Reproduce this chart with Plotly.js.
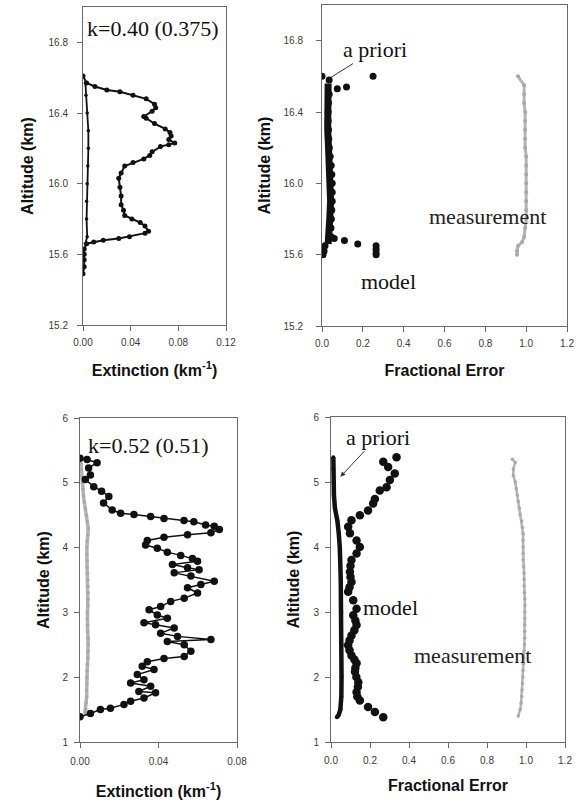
<!DOCTYPE html>
<html>
<head>
<meta charset="utf-8">
<script src="https://cdn.plot.ly/plotly-3.0.1.min.js"></script>
<style>html,body{margin:0;padding:0;background:#fff;}#chart{width:586px;height:803px;}</style>
</head>
<body>
<div id="chart"></div>
<script>
// ---------- Panel 1 (top left): extinction profile, 15.2-17 km ----------
const p1Alt = [16.61,16.57,16.55,16.53,16.52,16.50,16.48,16.45,16.43,16.41,16.38,16.37,16.34,16.31,16.29,16.27,16.25,16.23,16.22,16.21,16.18,16.16,16.14,16.12,16.10,16.06,16.03,15.98,15.93,15.88,15.85,15.82,15.80,15.78,15.76,15.73,15.72,15.70,15.69,15.68,15.67,15.66,15.63,15.60,15.57,15.53,15.49];
const p1Ext = [0.000,0.003,0.010,0.020,0.031,0.042,0.053,0.060,0.061,0.058,0.051,0.053,0.060,0.069,0.073,0.074,0.072,0.077,0.072,0.065,0.058,0.056,0.051,0.042,0.035,0.032,0.030,0.031,0.032,0.032,0.034,0.035,0.041,0.048,0.052,0.055,0.052,0.039,0.030,0.017,0.009,0.003,0.001,0.001,0.001,0.001,0.000];
const p1bAlt = [16.57,16.50,16.40,16.30,16.20,16.10,16.00,15.90,15.80,15.70,15.66];
const p1bExt = [0.002,0.0025,0.0035,0.0045,0.0045,0.004,0.0035,0.003,0.003,0.0035,0.002];

// ---------- Panel 2 (top right): fractional errors ----------
const p2mAlt = [16.60,16.60,16.58,16.54,16.53,16.50,16.45,16.40,16.35,16.30,16.25,16.20,16.15,16.10,16.05,16.00,15.95,15.90,15.85,15.80,15.75,15.70,15.69,15.68,15.66,15.65,15.63,15.61,15.60,15.65,15.62,15.60];
const p2mFe  = [0.0,0.25,0.035,0.12,0.075,0.035,0.032,0.03,0.03,0.032,0.033,0.036,0.04,0.045,0.048,0.05,0.05,0.05,0.048,0.046,0.044,0.045,0.06,0.11,0.175,0.265,0.265,0.265,0.265,0.015,0.01,0.005];
const p2aAlt = [16.56,16.50,16.40,16.30,16.20,16.10,16.00,15.90,15.80,15.70,15.66];
const p2aFe  = [0.03,0.028,0.027,0.028,0.032,0.038,0.042,0.042,0.038,0.035,0.03];
const p2gAlt = [16.60,16.55,16.50,16.45,16.40,16.35,16.30,16.25,16.20,16.15,16.10,16.05,16.00,15.95,15.90,15.85,15.80,15.75,15.70,15.67,15.65,15.62,15.60];
const p2gFe  = [0.96,0.99,0.99,0.99,0.995,0.995,0.995,0.995,0.995,1.0,1.0,1.0,1.0,1.0,1.0,1.0,1.0,0.995,0.99,0.98,0.96,0.955,0.955];

// ---------- Panel 3 (bottom left): extinction profile, 1-6 km ----------
const p3Alt = [5.38,5.36,5.31,5.23,5.12,5.05,4.94,4.87,4.79,4.69,4.58,4.53,4.51,4.48,4.45,4.42,4.40,4.35,4.33,4.28,4.23,4.20,4.16,4.11,4.04,3.99,3.93,3.88,3.83,3.79,3.74,3.69,3.66,3.61,3.56,3.48,3.43,3.38,3.30,3.22,3.17,3.09,3.04,2.96,2.91,2.84,2.81,2.76,2.68,2.63,2.58,2.55,2.50,2.40,2.32,2.29,2.24,2.17,2.12,2.04,1.96,1.91,1.86,1.78,1.76,1.68,1.63,1.58,1.52,1.50,1.44,1.39];
const p3Ext = [0.0,0.0036,0.0087,0.0044,0.0053,0.0027,0.007,0.011,0.0147,0.012,0.0164,0.0207,0.0275,0.036,0.0428,0.053,0.058,0.064,0.0684,0.071,0.0667,0.0548,0.0428,0.0343,0.0334,0.0394,0.0445,0.0513,0.0573,0.0599,0.0471,0.0548,0.0607,0.048,0.0565,0.0684,0.0616,0.0548,0.0599,0.0531,0.0462,0.0411,0.0352,0.0394,0.0445,0.0326,0.0385,0.048,0.0411,0.0497,0.0667,0.0445,0.0531,0.0565,0.0531,0.0428,0.0343,0.0317,0.0377,0.0292,0.0326,0.0258,0.036,0.03,0.0385,0.0326,0.0258,0.0224,0.0155,0.0104,0.0053,0.0];
const p3gAlt = [5.30,5.20,5.10,5.00,4.90,4.80,4.70,4.60,4.50,4.40,4.30,4.20,4.10,4.00,3.90,3.80,3.70,3.60,3.50,3.40,3.30,3.20,3.10,3.00,2.90,2.80,2.70,2.60,2.50,2.40,2.30,2.20,2.10,2.00,1.90,1.80,1.70,1.60,1.50,1.45];
const p3gExt = [0.0005,0.0007,0.001,0.0012,0.0015,0.0018,0.0022,0.0028,0.0033,0.0038,0.0042,0.004,0.0036,0.0035,0.0035,0.0036,0.0037,0.0039,0.004,0.0041,0.0042,0.0041,0.004,0.0038,0.0037,0.0038,0.0039,0.0041,0.0042,0.0041,0.004,0.0038,0.0036,0.0035,0.0035,0.0034,0.0034,0.0032,0.003,0.0025];

// ---------- Panel 4 (bottom right): fractional errors ----------
const p4mAlt = [5.38,5.31,5.23,5.13,5.03,4.92,4.87,4.74,4.67,4.56,4.49,4.41,4.31,4.21,4.10,4.00,3.90,3.80,3.71,3.62,3.54,3.46,3.38,3.31,3.18,3.05,2.95,2.87,2.80,2.72,2.64,2.56,2.49,2.41,2.33,2.27,2.21,2.14,2.08,2.00,1.92,1.85,1.77,1.70,1.64,1.54,1.46,1.38];
const p4mFe  = [0.336,0.268,0.293,0.327,0.302,0.285,0.25,0.225,0.216,0.19,0.148,0.105,0.088,0.097,0.131,0.148,0.131,0.105,0.10,0.097,0.10,0.105,0.095,0.088,0.114,0.131,0.114,0.125,0.131,0.12,0.105,0.095,0.088,0.095,0.105,0.12,0.131,0.125,0.123,0.13,0.14,0.138,0.131,0.135,0.148,0.19,0.225,0.268];
const p4aAlt = [5.38,5.20,5.00,4.80,4.60,4.40,4.20,4.00,3.50,3.00,2.50,2.00,1.70,1.50,1.42,1.38];
const p4aFe  = [0.012,0.012,0.013,0.015,0.02,0.033,0.04,0.045,0.05,0.053,0.054,0.054,0.053,0.048,0.04,0.03];
const p4gAlt = [5.35,5.30,5.20,5.10,5.00,4.90,4.80,4.70,4.60,4.50,4.40,4.30,4.20,4.10,4.00,3.90,3.80,3.70,3.60,3.50,3.40,3.30,3.20,3.10,3.00,2.90,2.80,2.70,2.60,2.50,2.40,2.30,2.20,2.10,2.00,1.90,1.80,1.70,1.60,1.50,1.40];
const p4gFe  = [0.93,0.945,0.935,0.935,0.945,0.95,0.955,0.96,0.965,0.97,0.978,0.982,0.985,0.985,0.985,0.985,0.985,0.988,0.99,0.99,0.99,0.992,0.994,0.994,0.994,0.994,0.994,0.994,0.994,0.992,0.99,0.988,0.986,0.985,0.984,0.982,0.98,0.978,0.975,0.97,0.96];

// tick values / labels
const extTicks1 = [0, 0.04, 0.08, 0.12];
const extTicks3 = [0, 0.04, 0.08];
const feTicks = [0, 0.2, 0.4, 0.6, 0.8, 1.0, 1.2];
const altTicks1 = [15.2, 15.6, 16.0, 16.4, 16.8];
const altTicks3 = [1, 2, 3, 4, 5, 6];

const W = 586, H = 803;
const BLACK = '#111', GRAY = '#b4b4b4';
const SANS = 'Liberation Sans, Arial, sans-serif';
const SERIF = 'Liberation Serif, Times New Roman, serif';

function xd(l, r) { return [l / W, r / W]; }
function yd(t, b) { return [1 - b / H, 1 - t / H]; }

function axisBase(extra) {
  return Object.assign({
    showline: true, mirror: true, linecolor: '#6a6a6a', linewidth: 1,
    ticks: 'outside', ticklen: 5, tickcolor: '#6a6a6a', tickwidth: 1,
    showgrid: false, zeroline: false, fixedrange: true,
    tickfont: { family: SANS, size: 10, color: '#3a3a3a' }
  }, extra);
}
const titleFont = { family: SANS, size: 16, color: '#111', weight: 'bold' };
const serifFont = { family: SERIF, size: 22, color: '#111' };

const traces = [
  // panel 1
  { x: p1bExt, y: p1bAlt, xaxis: 'x', yaxis: 'y', mode: 'lines+markers',
    line: { color: BLACK, width: 1.8 }, marker: { color: BLACK, size: 3.5 } },
  { x: p1Ext, y: p1Alt, xaxis: 'x', yaxis: 'y', mode: 'lines+markers',
    line: { color: BLACK, width: 2 }, marker: { color: BLACK, size: 5 } },
  // panel 2
  { x: p2gFe, y: p2gAlt, xaxis: 'x2', yaxis: 'y2', mode: 'lines+markers',
    line: { color: GRAY, width: 3 }, marker: { color: '#a8a8a8', size: 4 } },
  { x: p2aFe, y: p2aAlt, xaxis: 'x2', yaxis: 'y2', mode: 'lines',
    line: { color: BLACK, width: 7 } },
  { x: p2mFe, y: p2mAlt, xaxis: 'x2', yaxis: 'y2', mode: 'markers',
    marker: { color: BLACK, size: 7 } },
  // panel 3
  { x: p3gExt, y: p3gAlt, xaxis: 'x3', yaxis: 'y3', mode: 'lines+markers',
    line: { color: GRAY, width: 3.5 }, marker: { color: '#a8a8a8', size: 3.5 } },
  { x: p3Ext, y: p3Alt, xaxis: 'x3', yaxis: 'y3', mode: 'lines+markers',
    line: { color: BLACK, width: 1.5 }, marker: { color: BLACK, size: 7.5 } },
  // panel 4
  { x: p4gFe, y: p4gAlt, xaxis: 'x4', yaxis: 'y4', mode: 'lines+markers',
    line: { color: GRAY, width: 2.5 }, marker: { color: '#a8a8a8', size: 3.5 } },
  { x: p4aFe, y: p4aAlt, xaxis: 'x4', yaxis: 'y4', mode: 'lines+markers',
    line: { color: BLACK, width: 4.5 }, marker: { color: BLACK, size: 4 } },
  { x: p4mFe, y: p4mAlt, xaxis: 'x4', yaxis: 'y4', mode: 'markers',
    marker: { color: BLACK, size: 8.5 } }
];

const extTitle = 'Extinction (km<sup>-1</sup>)';

const layout = {
  width: W, height: H, showlegend: false,
  margin: { l: 0, r: 0, t: 0, b: 0 },
  paper_bgcolor: '#fff', plot_bgcolor: '#fff',
  xaxis: axisBase({ domain: xd(83, 226), range: [0, 0.12], anchor: 'y',
    tickvals: extTicks1, tickformat: '.2f', ticklabelstandoff: 3,
    title: { text: extTitle, font: titleFont, standoff: 17 } }),
  yaxis: axisBase({ domain: yd(7, 325), range: [15.2, 17.0], anchor: 'x',
    tickvals: altTicks1, tickformat: '.1f', ticklabelstandoff: 7,
    title: { text: 'Altitude (km)', font: titleFont, standoff: 10 } }),
  xaxis2: axisBase({ domain: xd(322, 567), range: [0, 1.2], anchor: 'y2',
    tickvals: feTicks, tickformat: '.1f', ticklabelstandoff: 3,
    title: { text: 'Fractional Error', font: titleFont, standoff: 16 } }),
  yaxis2: axisBase({ domain: yd(5, 326), range: [15.2, 17.0], anchor: 'x2',
    tickvals: altTicks1, tickformat: '.1f', ticklabelstandoff: 11,
    title: { text: 'Altitude (km)', font: titleFont, standoff: 8 } }),
  xaxis3: axisBase({ domain: xd(80, 237), range: [0, 0.08], anchor: 'y3',
    tickvals: extTicks3, tickformat: '.2f', ticklabelstandoff: 5,
    title: { text: extTitle, font: titleFont, standoff: 19 } }),
  yaxis3: axisBase({ domain: yd(418, 742), range: [1, 6], anchor: 'x3',
    tickvals: altTicks3, tickformat: 'd', ticklabelstandoff: 4,
    title: { text: 'Altitude (km)', font: titleFont, standoff: 8 } }),
  xaxis4: axisBase({ domain: xd(331, 565), range: [0, 1.2], anchor: 'y4',
    tickvals: feTicks, tickformat: '.1f', ticklabelstandoff: 4,
    title: { text: 'Fractional Error', font: titleFont, standoff: 14 } }),
  yaxis4: axisBase({ domain: yd(417, 742), range: [1, 6], anchor: 'x4',
    tickvals: altTicks3, tickformat: 'd', ticklabelstandoff: 4,
    title: { text: 'Altitude (km)', font: titleFont, standoff: 9 } }),
  annotations: [
    { xref: 'x', yref: 'y', x: 0.059, y: 16.88, text: 'k=0.40 (0.375)', showarrow: false,
      font: serifFont },
    { xref: 'x3', yref: 'y3', x: 0.0348, y: 5.57, text: 'k=0.52 (0.51)', showarrow: false,
      font: serifFont },
    // panel 2 labels: "a priori" with a pointer line to the a priori column
    { xref: 'x2', yref: 'y2', x: 0.044, y: 16.594, ax: 0.261, ay: 16.75, axref: 'x2', ayref: 'y2',
      text: 'a priori', showarrow: true, arrowhead: 0, arrowwidth: 1, arrowcolor: '#333',
      font: serifFont },
    { xref: 'x2', yref: 'y2', x: 0.813, y: 15.813, text: 'measurement', showarrow: false,
      font: { family: SERIF, size: 22, color: '#222' } },
    { xref: 'x2', yref: 'y2', x: 0.327, y: 15.448, text: 'model', showarrow: false,
      font: serifFont },
    // panel 4 labels
    { xref: 'x4', yref: 'y4', x: 0.048, y: 5.08, ax: 0.239, ay: 5.69, axref: 'x4', ayref: 'y4',
      text: 'a priori', showarrow: true, arrowhead: 2, arrowsize: 1, arrowwidth: 1, arrowcolor: '#333',
      font: serifFont },
    { xref: 'x4', yref: 'y4', x: 0.303, y: 3.07, text: 'model', showarrow: false,
      font: serifFont },
    { xref: 'x4', yref: 'y4', x: 0.728, y: 2.33, text: 'measurement', showarrow: false,
      font: { family: SERIF, size: 22, color: '#222' } }
  ]
};

Plotly.newPlot('chart', traces, layout, { displayModeBar: false, staticPlot: true });
</script>
</body>
</html>
